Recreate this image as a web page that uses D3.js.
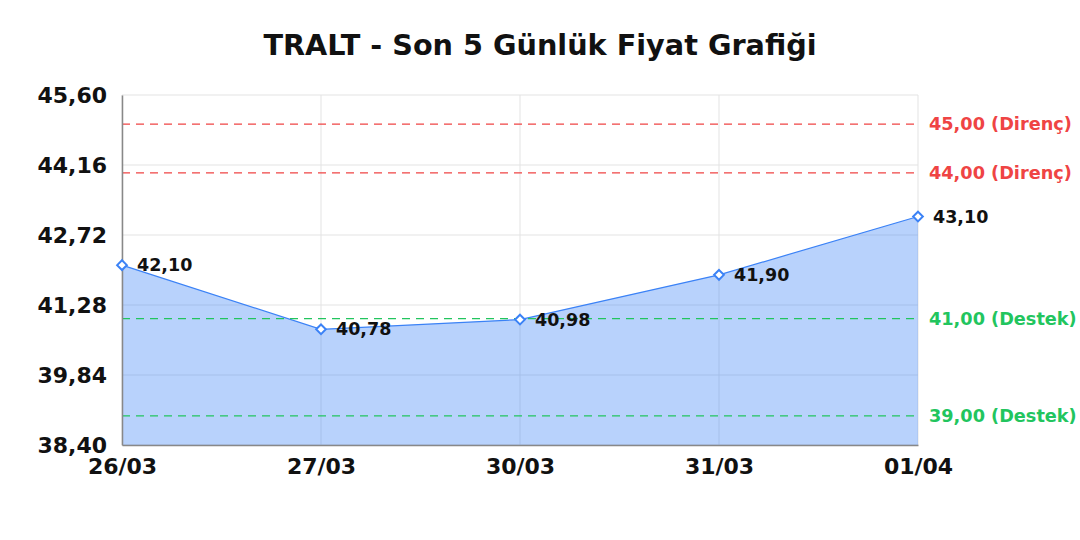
<!DOCTYPE html>
<html>
<head>
<meta charset="utf-8">
<script src="https://cdn.jsdelivr.net/npm/d3@7"></script>
<style>
  body { margin: 0; background: #fff; }
  svg text { font-family: "DejaVu Sans", sans-serif; font-weight: bold; }
</style>
</head>
<body>
<div id="chart"></div>
<script>
var dates = ['26/03', '27/03', '30/03', '31/03', '01/04'];
var prices = [42.10, 40.78, 40.98, 41.90, 43.10];
var yTicks = [38.40, 39.84, 41.28, 42.72, 44.16, 45.60];
var resistance = [45.00, 44.00];
var support = [41.00, 39.00];

var width = 1080, height = 540;
var margin = {top: 95, right: 162, bottom: 95, left: 122};
var innerW = width - margin.left - margin.right;
var innerH = height - margin.top - margin.bottom;

var svg = d3.select('#chart').append('svg')
    .attr('width', width)
    .attr('height', height);

var fmt = function (v) { return v.toFixed(2).replace('.', ','); };

var x = d3.scalePoint().domain(dates).range([0, innerW]);
var y = d3.scaleLinear().domain([38.40, 45.60]).range([innerH, 0]);

svg.append('text')
  .attr('x', width / 2)
  .attr('y', 55)
  .attr('text-anchor', 'middle')
  .attr('font-size', 28.7)
  .attr('fill', '#111')
  .text('TRALT - Son 5 Günlük Fiyat Grafiği');

var g = svg.append('g')
    .attr('transform', 'translate(' + margin.left + ',' + margin.top + ')');

// grid
g.selectAll('line.hgrid')
  .data(yTicks)
  .enter().append('line')
  .attr('class', 'hgrid')
  .attr('x1', 0).attr('x2', innerW)
  .attr('y1', function (d) { return y(d); })
  .attr('y2', function (d) { return y(d); })
  .attr('stroke', '#e3e3e3')
  .attr('stroke-width', 1);

g.selectAll('line.vgrid')
  .data(dates)
  .enter().append('line')
  .attr('class', 'vgrid')
  .attr('x1', function (d) { return x(d); })
  .attr('x2', function (d) { return x(d); })
  .attr('y1', 0).attr('y2', innerH)
  .attr('stroke', '#e3e3e3')
  .attr('stroke-width', 1);

// area + line
var pts = dates.map(function (d, i) { return {date: d, value: prices[i]}; });

var area = d3.area()
    .x(function (d) { return x(d.date); })
    .y0(innerH)
    .y1(function (d) { return y(d.value); });

var line = d3.line()
    .x(function (d) { return x(d.date); })
    .y(function (d) { return y(d.value); });

g.append('path')
  .datum(pts)
  .attr('d', area)
  .attr('fill', '#3b82f6')
  .attr('fill-opacity', 0.36);

g.append('path')
  .datum(pts)
  .attr('d', line)
  .attr('fill', 'none')
  .attr('stroke', '#3b82f6')
  .attr('stroke-width', 1.2);

// level lines
var levels = resistance.map(function (v) { return {v: v, label: fmt(v) + ' (Direnç)', color: '#ef4444'}; })
  .concat(support.map(function (v) { return {v: v, label: fmt(v) + ' (Destek)', color: '#22c55e'}; }));

g.selectAll('line.level')
  .data(levels)
  .enter().append('line')
  .attr('class', 'level')
  .attr('x1', 0).attr('x2', innerW)
  .attr('y1', function (d) { return y(d.v); })
  .attr('y2', function (d) { return y(d.v); })
  .attr('stroke', function (d) { return d.color; })
  .attr('stroke-width', 1.2)
  .attr('stroke-dasharray', '8,6');

g.selectAll('text.level')
  .data(levels)
  .enter().append('text')
  .attr('class', 'level')
  .attr('x', innerW + 11)
  .attr('y', function (d) { return y(d.v); })
  .attr('dy', '0.35em')
  .attr('font-size', 17.7)
  .attr('fill', function (d) { return d.color; })
  .text(function (d) { return d.label; });

// axes
var yAxis = g.append('g')
  .call(d3.axisLeft(y).tickValues(yTicks).tickSize(0).tickPadding(15).tickFormat(fmt));
yAxis.select('.domain').attr('stroke', '#888').attr('stroke-width', 1.5);
yAxis.selectAll('text').attr('font-size', 22).attr('fill', '#111');

var xAxis = g.append('g')
  .attr('transform', 'translate(0,' + innerH + ')')
  .call(d3.axisBottom(x).tickSize(0).tickPadding(13));
xAxis.select('.domain').attr('stroke', '#888').attr('stroke-width', 1.5);
xAxis.selectAll('text').attr('font-size', 22).attr('fill', '#111');

// markers
g.selectAll('path.marker')
  .data(pts)
  .enter().append('path')
  .attr('class', 'marker')
  .attr('transform', function (d) { return 'translate(' + x(d.date) + ',' + y(d.value) + ')'; })
  .attr('d', d3.symbol().type(d3.symbolDiamond2).size(60))
  .attr('fill', '#fff')
  .attr('stroke', '#3b82f6')
  .attr('stroke-width', 2);

g.selectAll('text.plabel')
  .data(pts)
  .enter().append('text')
  .attr('class', 'plabel')
  .attr('x', function (d) { return x(d.date) + 15; })
  .attr('y', function (d) { return y(d.value); })
  .attr('dy', '0.35em')
  .attr('font-size', 17.5)
  .attr('fill', '#111')
  .text(function (d) { return fmt(d.value); });
</script>
</body>
</html>
